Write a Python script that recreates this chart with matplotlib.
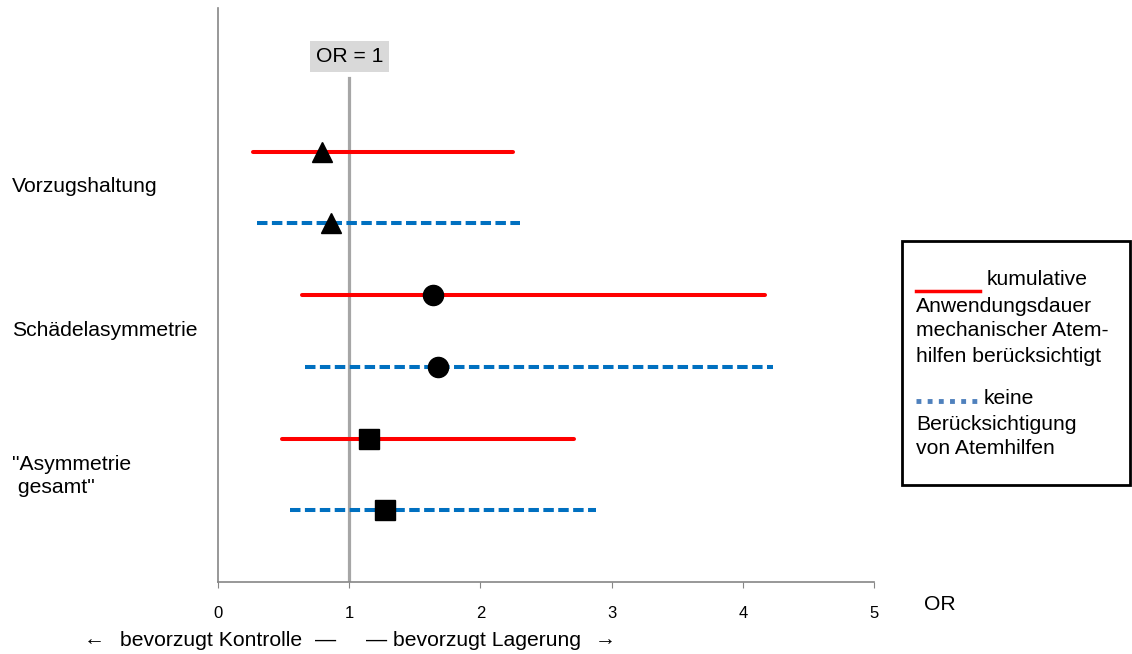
import matplotlib
matplotlib.use("Agg")
import matplotlib.pyplot as plt
from matplotlib.patches import Rectangle
from matplotlib.lines import Line2D

plt.rcParams['font.family'] = ['Liberation Sans', 'DejaVu Sans']

# Data
categories = ["Vorzugshaltung", "Schädelasymmetrie", "\"Asymmetrie\n gesamt\""]
or_cum = [0.79, 1.64, 1.15]
lo_cum = [0.27, 0.64, 0.49]
hi_cum = [2.25, 4.17, 2.71]
or_none = [0.86, 1.68, 1.27]
lo_none = [0.30, 0.66, 0.55]
hi_none = [2.30, 4.23, 2.88]
markers = ['^', 'o', 's']
xticks = [0, 1, 2, 3, 4, 5]

FS = 15.2

fig = plt.figure(figsize=(11.32, 6.54), dpi=100)
ax = fig.add_axes([218/1132, 72/654, (874-218)/1132, 574/654])
ax.set_xlim(0, 5)
ax.set_ylim(0, 8)

red = '#FF0000'
blue = '#0070C0'

label_y = [187, 330, 476]
for i in range(3):
    y_c = 6 - 2*i
    y_n = 5 - 2*i
    ax.plot([lo_cum[i], hi_cum[i]], [y_c, y_c], color=red, lw=2.9,
            solid_capstyle='round', zorder=3)
    ax.plot([lo_none[i], hi_none[i]], [y_n, y_n], color=blue, lw=2.9,
            ls=(0, (2.6, 1.1)), zorder=3)
    ms = 15 if markers[i] == 's' else 14.5
    ax.plot(or_cum[i], y_c, marker=markers[i], color='black', ms=ms, zorder=5, ls='none')
    ax.plot(or_none[i], y_n, marker=markers[i], color='black', ms=ms, zorder=5, ls='none')
    fig.text(12/1132, 1 - label_y[i]/654, categories[i], fontsize=FS,
             ha='left', va='center', linespacing=1.25)

# OR = 1 line
ax.plot([1, 1], [0, 7.02], color='#A6A6A6', lw=2.3, zorder=2)
ax.text(1.0, 7.32, "OR = 1", ha='center', va='center', fontsize=FS,
        bbox=dict(boxstyle='square,pad=0.28', fc='#D9D9D9', ec='none'))

for s in ['top', 'right']:
    ax.spines[s].set_visible(False)
for s in ['left', 'bottom']:
    ax.spines[s].set_color('#868686')
    ax.spines[s].set_linewidth(1.2)
ax.set_yticks([])
ax.set_xticks(xticks)
ax.set_xticklabels([str(t) for t in xticks], fontsize=12)
ax.tick_params(axis='x', direction='out', length=4, color='#868686', pad=13)

fig.text(940/1132, 1 - 605/654, "OR", fontsize=FS, ha='center', va='center')
yb = 1 - 640/654
fig.text(84/1132, yb, "←", fontsize=FS, ha='left', va='center')
fig.text(120/1132, yb, "bevorzugt Kontrolle", fontsize=FS, ha='left', va='center')
fig.text(315/1132, yb, "—", fontsize=FS, ha='left', va='center')
fig.text(366/1132, yb, "—", fontsize=FS, ha='left', va='center')
fig.text(393/1132, yb, "bevorzugt Lagerung", fontsize=FS, ha='left', va='center')
fig.text(595/1132, yb, "→", fontsize=FS, ha='left', va='center')

# Legend box
fig.patches.append(Rectangle((902/1132, 1 - 485/654), (1130-902)/1132, 244/654,
                             transform=fig.transFigure, fill=False, ec='black', lw=2))
fig.lines.append(Line2D([916/1132, 980/1132], [1 - 291/654, 1 - 291/654],
                        transform=fig.transFigure, color=red, lw=2.5))
fig.lines.append(Line2D([916/1132, 978/1132], [1 - 401/654, 1 - 401/654],
                        transform=fig.transFigure, color='#4F81BD', lw=3.5,
                        ls=(0, (1.0, 1.3))))
fig.text(987/1132, 1 - 280/654, "kumulative", fontsize=FS, ha='left', va='center')
for k, t in enumerate(["Anwendungsdauer", "mechanischer Atem-", "hilfen berücksichtigt"]):
    fig.text(916/1132, 1 - (306 + 25*k)/654, t, fontsize=FS, ha='left', va='center')
fig.text(984/1132, 1 - 398/654, "keine", fontsize=FS, ha='left', va='center')
for k, t in enumerate(["Berücksichtigung", "von Atemhilfen"]):
    fig.text(916/1132, 1 - (425 + 24*k)/654, t, fontsize=FS, ha='left', va='center')

fig.savefig("out.png", dpi=100)
